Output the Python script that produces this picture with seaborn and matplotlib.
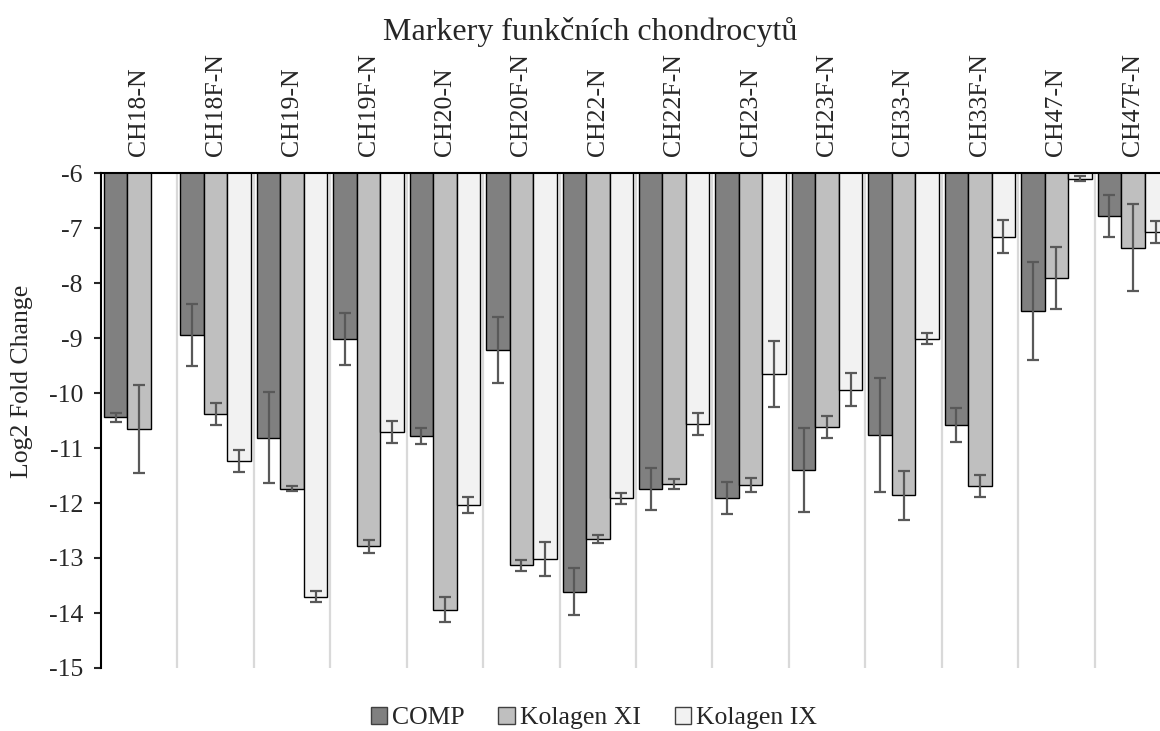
import numpy as np
import pandas as pd
import matplotlib
matplotlib.use("Agg")
import matplotlib.pyplot as plt
from matplotlib.patches import Patch
import seaborn as sns

samples = ["CH18-N", "CH18F-N", "CH19-N", "CH19F-N", "CH20-N", "CH20F-N", "CH22-N",
           "CH22F-N", "CH23-N", "CH23F-N", "CH33-N", "CH33F-N", "CH47-N", "CH47F-N"]
series = ["COMP", "Kolagen XI", "Kolagen IX"]

comp = [-10.44, -8.95, -10.81, -9.02, -10.78, -9.21, -13.61, -11.74, -11.91, -11.40, -10.76, -10.58, -8.51, -6.78]
comp_err = [0.08, 0.56, 0.82, 0.47, 0.15, 0.60, 0.42, 0.38, 0.29, 0.76, 1.04, 0.31, 0.89, 0.38]
kol11 = [-10.65, -10.39, -11.74, -12.79, -13.94, -13.13, -12.65, -11.66, -11.67, -10.61, -11.86, -11.69, -7.91, -7.36]
kol11_err = [0.80, 0.20, 0.045, 0.12, 0.23, 0.10, 0.07, 0.09, 0.13, 0.20, 0.44, 0.20, 0.57, 0.79]
kol9 = [np.nan, -11.24, -13.70, -10.71, -12.04, -13.02, -11.91, -10.56, -9.66, -9.94, -9.01, -7.16, -6.10, -7.08]
kol9_err = [np.nan, 0.20, 0.10, 0.20, 0.15, 0.31, 0.10, 0.20, 0.60, 0.30, 0.10, 0.30, 0.05, 0.20]

yticks = list(range(-15, -5))
colors = ["#808080", "#bfbfbf", "#f2f2f2"]

sns.set_style("white")
plt.rcParams["font.family"] = ["Liberation Serif", "DejaVu Serif"]

rows = []
for s, vals in zip(series, [comp, kol11, kol9]):
    for smp, v in zip(samples, vals):
        rows.append({"sample": smp, "marker": s, "value": v})
df = pd.DataFrame(rows)
errs = {"COMP": comp_err, "Kolagen XI": kol11_err, "Kolagen IX": kol9_err}

fig = plt.figure(figsize=(11.6, 7.31), dpi=100)
ax = fig.add_axes([101 / 1160, 1 - 668 / 731, 1070 / 1160, 495 / 731])

sns.barplot(data=df, x="sample", y="value", hue="marker", order=samples, hue_order=series,
            palette=colors, edgecolor="black", linewidth=1.0, width=0.92, gap=0,
            errorbar=None, legend=False, ax=ax, zorder=2)

# error bars
for cont, s in zip(ax.containers, series):
    for patch in cont:
        h = patch.get_height()
        if not np.isfinite(h):
            continue
        xc = patch.get_x() + patch.get_width() / 2
        idx = int(round(xc))
        e = errs[s][idx]
        if not np.isfinite(e):
            continue
        ax.errorbar(xc, h, yerr=e, fmt="none", ecolor="#595959", elinewidth=1.6,
                    capsize=4.5, capthick=1.6, zorder=4)

ax.vlines([i + 0.5 for i in range(len(samples))], -15, -6, colors="#d9d9d9",
          linewidth=1.6, zorder=0)

ax.set_ylim(-15, -6)
ax.set_xlim(-0.5, len(samples) - 0.5)
ax.set_yticks(yticks)
ax.set_yticklabels([str(t) for t in yticks])
ax.xaxis.tick_top()
ax.set_xticks(range(len(samples)))
ax.set_xticklabels(samples, rotation=90, va="bottom", ha="center")
ax.tick_params(axis="x", length=0, pad=12, labelsize=18.5)
ax.tick_params(axis="y", direction="out", length=5, width=1.5, pad=8, labelsize=18.5, left=True)
ax.set_xlabel("")
ax.set_ylabel("")
for side in ["right", "bottom"]:
    ax.spines[side].set_visible(False)
for side in ["left", "top"]:
    ax.spines[side].set_visible(True)
    ax.spines[side].set_color("black")
    ax.spines[side].set_linewidth(1.5)
ax.spines["top"].set_zorder(5)

fig.text(22 / 1160, 1 - 381 / 731, "Log2 Fold Change", rotation=90, ha="center",
         va="center", fontsize=18.5)
fig.text(590 / 1160, 1 - 32 / 731, "Markery funkčních chondrocytů", ha="center",
         va="center", fontsize=23)

handles = [Patch(facecolor=c, edgecolor="#404040", linewidth=1.0) for c in colors]
fig.legend(handles, series, loc="center", bbox_to_anchor=(594 / 1160, 1 - 718 / 731),
           ncol=3, frameon=False, fontsize=18.5, handlelength=0.65, handleheight=0.65,
           handletextpad=0.2, columnspacing=1.3)

fig.savefig("out.png", dpi=100)
